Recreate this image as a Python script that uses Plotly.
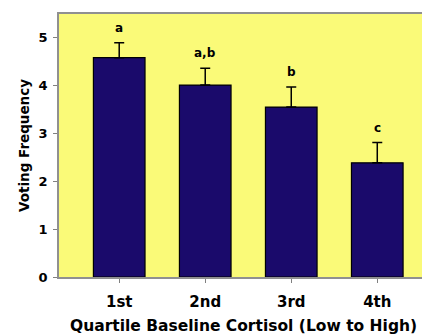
import plotly.graph_objects as go

categories = ["1st", "2nd", "3rd", "4th"]
values = [4.57, 4.0, 3.54, 2.38]
errors = [0.31, 0.35, 0.42, 0.42]
letters = ["a", "a,b", "b", "c"]

font_family = "DejaVu Sans, Arial, sans-serif"

fig = go.Figure()
fig.add_trace(go.Bar(
    x=list(range(len(categories))),
    y=values,
    width=0.6,
    marker=dict(color="#1a0a6b", line=dict(color="#000000", width=1.2)),
    error_y=dict(type="data", symmetric=False, array=errors,
                 arrayminus=[0] * len(errors),
                 color="#000000", thickness=1.5, width=5),
    showlegend=False,
    hoverinfo="skip",
))

for i, (v, e, t) in enumerate(zip(values, errors, letters)):
    fig.add_annotation(x=i, y=v + e, text=t, showarrow=False,
                       yanchor="bottom", yshift=6,
                       font=dict(family=font_family, size=12, color="#000000", weight="bold"))

# x-axis title as an annotation so it can sit slightly right of centre, as in the reference
fig.add_annotation(xref="paper", yref="paper", x=0.5, y=0, xanchor="center", yanchor="top",
                   xshift=3, yshift=-38, showarrow=False,
                   text="Quartile Baseline Cortisol (Low to High)",
                   font=dict(size=15.5, family=font_family, weight="bold", color="#000000"))

fig.update_layout(
    width=422, height=336,
    margin=dict(l=59, r=0, t=14, b=59, autoexpand=False),
    paper_bgcolor="#ffffff",
    plot_bgcolor="#fafa78",
    font=dict(family=font_family, color="#000000"),
    bargap=0.4,
)
fig.update_xaxes(
    range=[-0.7, 3.52],
    tickmode="array", tickvals=list(range(len(categories))), ticktext=categories,
    ticks="outside", ticklen=4, tickcolor="#808080",
    ticklabelstandoff=6,
    showline=True, linecolor="#909090", linewidth=1.5, mirror=True,
    showgrid=False, zeroline=False,
    tickfont=dict(size=15, family=font_family, weight="bold"),
)
fig.update_yaxes(
    range=[0, 5.48],
    tickvals=[0, 1, 2, 3, 4, 5],
    ticks="outside", ticklen=4, tickcolor="#808080",
    ticklabelstandoff=3,
    showline=True, linecolor="#909090", linewidth=1.5,
    showgrid=False, zeroline=False,
    tickfont=dict(size=13, family=font_family, weight="bold"),
    title=dict(text="Voting Frequency", standoff=6,
               font=dict(size=13.5, family=font_family, weight="bold")),
)

fig.write_html("out.html", config={"displayModeBar": False},
               post_script="document.body.style.margin='0';document.body.style.overflow='hidden';")
